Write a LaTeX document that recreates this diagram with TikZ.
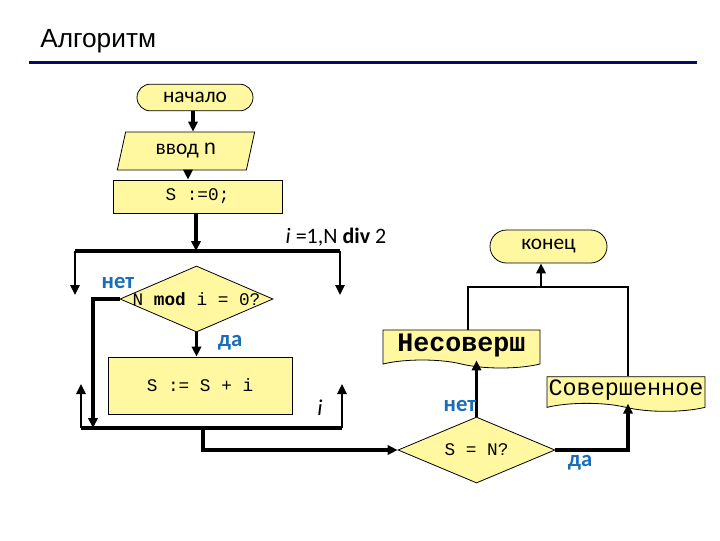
\documentclass[tikz,border=0pt]{standalone}
\usepackage{fontspec}
\setmainfont{Carlito}
\setmonofont{Liberation Mono}
\newfontfamily\titlefont{Liberation Sans}
\usetikzlibrary{arrows.meta,shapes.geometric,shapes.misc,shapes.symbols,positioning,calc}
\definecolor{boxyellow}{RGB}{255,248,160}
\definecolor{labelblue}{RGB}{25,110,185}
\definecolor{rulenavy}{RGB}{10,10,100}
\newcommand{\fsz}[1]{\fontsize{#1}{#1}\selectfont}

\begin{document}
\begin{tikzpicture}[x=0.75pt,y=-0.75pt,
  block/.style={draw,fill=boxyellow,line width=0.6pt,inner sep=0pt},
  term/.style={block,rounded rectangle,font=\fsz{16}},
  decide/.style={block,diamond},
  doc/.style={block,tape,tape bend top=none,tape bend bottom=out and in,tape bend height=6pt},
  conn/.style={line width=2.3pt,-{Triangle[length=7.5pt,width=7pt]}},
  thinconn/.style={line width=1.6pt,-{Triangle[length=7.5pt,width=7pt]}},
  yesno/.style={font=\bfseries\fsz{17},labelblue}]
\useasboundingbox (0,0) rectangle (720,540);
% heading
\node[anchor=base west,font=\titlefont\fsz{19.7},inner sep=0pt] (title) at (40,47) {Алгоритм};
\draw[rulenavy,line width=2.4pt] (29,62.5) -- (697,62.5);
% blocks
\node[term,minimum width=87pt,minimum height=20pt] (start) at (195,97.5) {начало};
\node[block,trapezium,trapezium left angle=61,trapezium right angle=119,
  trapezium stretches body,minimum width=103pt,minimum height=28.5pt,font=\fsz{16}]
  (input) at (186,151) {ввод \texttt{n}};
\node[block,minimum width=126.75pt,minimum height=24.75pt,font=\ttfamily\fsz{13.3}]
  (init) at (197.5,196.5) {S :=0;};
\node[decide,minimum width=114.75pt,minimum height=49.5pt] (cond1) at (196.5,299) {};
\node[font=\ttfamily\fsz{13.3}] (cond1txt) at (cond1) {N \textbf{mod} i = 0?};
\node[block,minimum width=138pt,minimum height=42.75pt,font=\ttfamily\fsz{13.3}]
  (body) at (200,385.5) {S := S + i};
\node[decide,minimum width=117.75pt,minimum height=49.5pt] (cond2) at (476.5,450) {};
\node[font=\ttfamily\fsz{13.3}] (cond2txt) at (cond2) {S = N?};
\node[doc,minimum width=117.75pt,minimum height=28.5pt,font=\ttfamily\bfseries\fsz{20}]
  (nonperf) at (461.5,345) {Несоверш};
\node[doc,minimum width=118.5pt,minimum height=26pt,font=\ttfamily\fsz{17.6}]
  (perf) at (626,390) {Совершенное};
\node[term,minimum width=87.75pt,minimum height=24.75pt] (stop) at (548.5,246.5) {конец};
% loop frame
\coordinate (lt1) at (75,251);
\coordinate (lt2) at (340,251);
\coordinate (la1) at (75,295);
\coordinate (la2) at (340,295);
\coordinate (lb1) at (81,428);
\coordinate (lb2) at (342,428);
\coordinate (lu1) at (81,384);
\coordinate (lu2) at (342,384);
\coordinate (no1) at (93,428);
\coordinate (lx) at (203,428);
\coordinate (j1) at (468,287);
\coordinate (j2) at (628,287);
\coordinate (j3) at (541,287);
% connectors
\draw[conn] (start.south -| 193,0) -- (input.north -| 193,0);
\draw[conn] (input.south -| 188,0) -- (init.north -| 188,0);
\draw[conn] (init.south -| 196,0) -- (lt1 -| 196,0);
\draw[line width=2.3pt] (lt1) -- (lt2);
\draw[thinconn] (lt1) -- (la1);
\draw[thinconn] (lt2) -- (la2);
\draw[conn] (cond1.west) -| (no1);
\draw[conn] (cond1.south) -- (body.north -| cond1.south);
\draw[line width=2.3pt] (lb1) -- (lb2);
\draw[thinconn] (lb1) -- (lu1);
\draw[thinconn] (lb2) -- (lu2);
\draw[conn] (lx) |- (cond2.west);
\draw[conn] (cond2.north) -- (cond2.north |- nonperf.south);
\draw[conn] (cond2.east) -| (perf.south -| j2);
\draw[line width=1.6pt] (nonperf.north -| j1) -- (j1) -- (j2) -- (perf.north -| j2);
\draw[thinconn] (j3) -- (stop.south -| j3);
% labels
\node[yesno] (no1lbl) at (118,283) {нет};
\node[yesno] (yes1lbl) at (230,343) {да};
\node[yesno] (no2lbl) at (460,406) {нет};
\node[yesno] (yes2lbl) at (580,463) {да};
\node[font=\fsz{16.5}] (looplbl) at (336,237) {\textit{i} =1,N \textbf{div} 2};
\node[font=\fsz{17}] (steplbl) at (320,408) {\textit{i}};
\end{tikzpicture}
\end{document}
